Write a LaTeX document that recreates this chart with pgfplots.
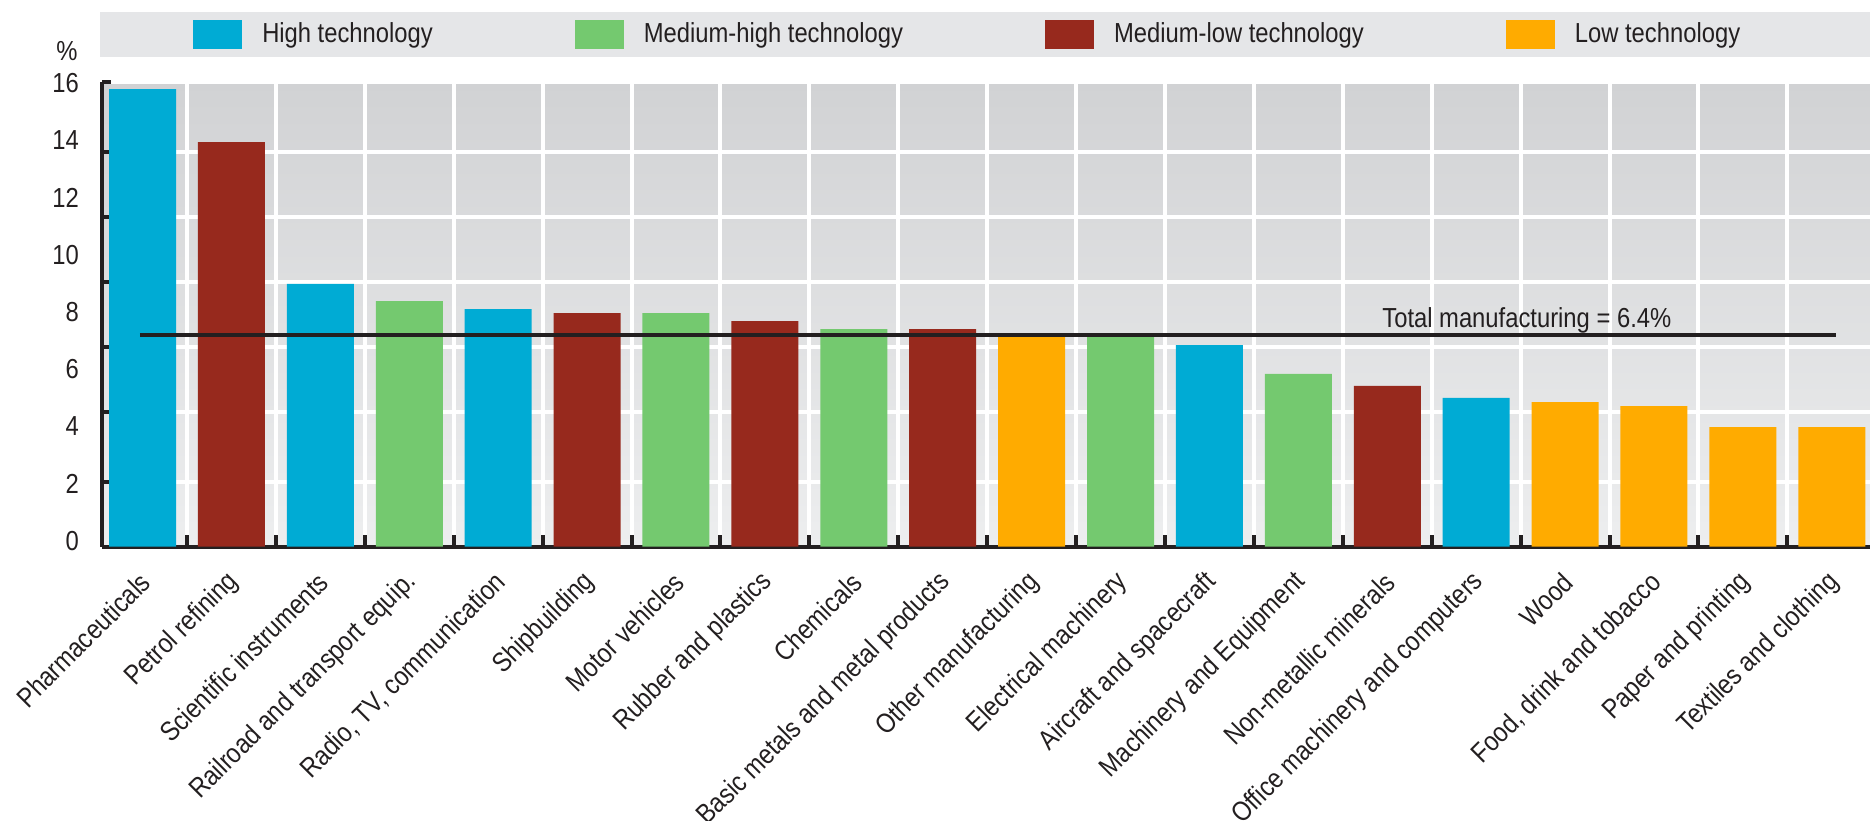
\documentclass[border=0pt]{standalone}
\usepackage{fontspec}
\setmainfont{Liberation Sans}[FakeStretch=0.865]
\usepackage{pgfplots}
\pgfplotsset{compat=1.18}
\definecolor{cHigh}{RGB}{0,171,212}
\definecolor{cMedHigh}{RGB}{116,201,111}
\definecolor{cMedLow}{RGB}{151,41,29}
\definecolor{cLow}{RGB}{255,171,0}
\definecolor{ink}{RGB}{35,31,32}
\definecolor{legbg}{RGB}{229,230,232}
\definecolor{bgtop}{RGB}{209,210,212}
\definecolor{bgbot}{RGB}{237,238,239}
\begin{document}
\fontsize{27.5pt}{33pt}\selectfont
\begin{tikzpicture}[x=1pt,y=1pt,font=\fontsize{27.5pt}{33pt}\selectfont,text=ink]
\path[use as bounding box] (0,0) rectangle (1870,-821);
\fill[legbg] (100,-12) rectangle (1870,-57);
\node[anchor=center,inner sep=0pt] at (67,-51) {\%};
\begin{axis}[
  at={(102pt,-546.7pt)}, anchor=south west,
  width=1768pt, height=465pt, scale only axis,
  xmin=-0.456, xmax=19.43, ymin=0, ymax=16.26,
  axis x line*=bottom, axis y line*=left,
  axis line style={ink, line width=4pt, -},
  axis background/.style={top color=bgtop, bottom color=bgbot},
  tick align=inside,
  major tick length=0pt,
  /pgf/number format/assume math mode=true,
  ytick={0,2,...,16},
  yticklabel style={anchor=east, inner sep=0pt, xshift=-23pt, yshift=6pt, text=ink},
  xtick={0,...,19},
  xticklabels={Pharmaceuticals,Petrol refining,Scientific instruments,Railroad and transport equip.,{Radio, TV, communication},Shipbuilding,Motor vehicles,Rubber and plastics,Chemicals,Basic metals and metal products,Other manufacturing,Electrical machinery,Aircraft and spacecraft,Machinery and Equipment,Non-metallic minerals,Office machinery and computers,Wood,{Food, drink and tobacco},Paper and printing,Textiles and clothing},
  xticklabel style={yshift=-31pt, xshift=3pt, rotate=45, anchor=east, inner sep=0pt, text=ink},
  extra x ticks={0.5,1.5,...,18.5},
  extra x tick labels={},
  extra x tick style={major tick length=12pt, grid=major, major grid style={white, line width=4pt}, tick style={ink, line width=4pt}},
  extra y ticks={2.27,4.70,6.99,9.27,11.54,13.81,16.26},
  extra y tick labels={},
  extra y tick style={major tick length=9pt, grid=major, major grid style={white, line width=4pt}, tick style={ink, line width=4pt}},
  legend columns=4,
  legend cell align=left,
  legend image code/.code={\fill[#1] (0pt,-14.5pt) rectangle (49pt,14.5pt);},
  legend style={at={(axis description cs:0.0515,1.1015)}, anchor=west, draw=none, fill=none, inner sep=0pt,
    nodes={inner sep=0pt, text=ink},
    /tikz/every odd column/.append style={column sep=20pt},
    /tikz/every even column/.append style={column sep=142pt}},
  clip=false,
]
\addplot[ybar, bar width=67pt, bar shift=0pt, fill=cHigh, draw=none] coordinates {(0,16.0) (2,9.19) (4,8.31) (12,7.05) (15,5.20)};
\addlegendentry{High technology}
\addplot[ybar, bar width=67pt, bar shift=0pt, fill=cMedHigh, draw=none] coordinates {(3,8.59) (6,8.17) (8,7.61) (11,7.37) (13,6.04)};
\addlegendentry{Medium-high technology}
\addplot[ybar, bar width=67pt, bar shift=0pt, fill=cMedLow, draw=none] coordinates {(1,14.15) (5,8.17) (7,7.89) (9,7.61) (14,5.62)};
\addlegendentry{Medium-low technology}
\addplot[ybar, bar width=67pt, bar shift=0pt, fill=cLow, draw=none] coordinates {(10,7.38) (16,5.06) (17,4.92) (18,4.18) (19,4.18)};
\addlegendentry{Low technology}
\addplot[ink, line width=4pt, no markers, forget plot] coordinates {(-0.03,7.40) (19.05,7.40)};
\node[anchor=base, inner sep=0pt, text=ink] at (axis cs:15.57,7.65) {Total manufacturing = 6.4\%};
\end{axis}
\end{tikzpicture}
\end{document}
